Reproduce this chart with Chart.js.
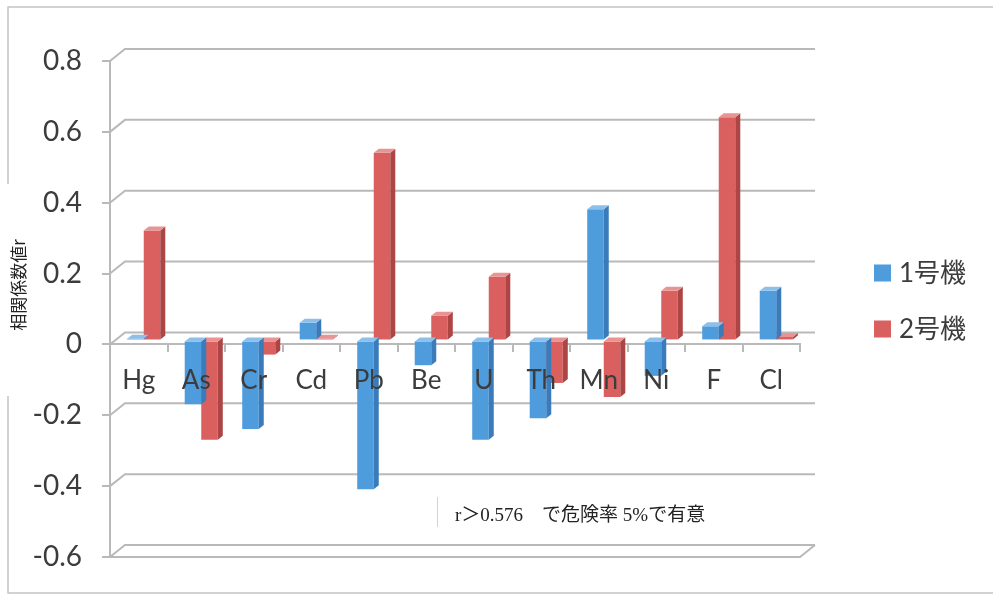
<!DOCTYPE html>
<html>
<head>
<meta charset="utf-8">
<script src="https://cdn.jsdelivr.net/npm/chart.js@4.4.0/dist/chart.umd.min.js"></script>
<style>
  html, body { margin: 0; padding: 0; background: #fff; }
  #wrap { width: 993px; height: 595px; position: relative; }
</style>
</head>
<body>
<div id="wrap"><canvas id="c"></canvas></div>
<script>
// Correlation coefficient r per element, for unit 1 and unit 2
const elements = ['Hg', 'As', 'Cr', 'Cd', 'Pb', 'Be', 'U', 'Th', 'Mn', 'Ni', 'F', 'Cl'];
const unit1 = [0.005, -0.18, -0.25, 0.05, -0.42, -0.07, -0.28, -0.22, 0.37, -0.10, 0.04, 0.14];
const unit2 = [0.31, -0.28, -0.04, 0.005, 0.53, 0.07, 0.18, -0.12, -0.16, 0.14, 0.63, 0.01];
const seriesNames = ['1号機', '2号機'];
const yTicks = [-0.6, -0.4, -0.2, 0, 0.2, 0.4, 0.6, 0.8];
const axisTitle = '相関係数値r';
const noteText = 'r＞0.576　で危険率 5%で有意';

const LATIN = 'Lato, "Noto Sans CJK JP", sans-serif';
const GRID = '#b9b9b9';
const TEXT = '#3c3c3c';
const WALL = { dx: 15, dy: 12 };      // offset of the back wall
const SHIFT = { dx: 5, dy: 4 };       // bars sit a third of the way back
const FACE = { dx: 5, dy: 4 };        // depth of each column

const palette = [
  { front: '#4f9cdc', side: '#3a7cbb', top: '#8cc0ea' },
  { front: '#d9605f', side: '#ad4545', top: '#e99393' }
];

// 3D look: back wall grid, floor, and side/top faces of each column
const depthPlugin = {
  id: 'depth',
  beforeDatasetsDraw(chart) {
    const { ctx, chartArea: a, scales: { y } } = chart;
    ctx.save();
    ctx.strokeStyle = GRID;
    ctx.lineWidth = 2;
    yTicks.forEach(v => {
      const py = y.getPixelForValue(v);
      ctx.beginPath();
      ctx.moveTo(a.left, py);
      ctx.lineTo(a.left + WALL.dx, py - WALL.dy);
      ctx.lineTo(a.right + WALL.dx, py - WALL.dy);
      ctx.stroke();
    });
    const fy = y.getPixelForValue(y.min);
    ctx.beginPath();
    ctx.moveTo(a.left, fy);
    ctx.lineTo(a.right, fy);
    ctx.lineTo(a.right + WALL.dx, fy - WALL.dy);
    ctx.stroke();
    ctx.restore();

    ctx.save();
    ctx.translate(SHIFT.dx, -SHIFT.dy);
  },
  afterDatasetDraw(chart, args) {
    const ctx = chart.ctx;
    const col = palette[args.index];
    args.meta.data.forEach(bar => {
      const { x, y, base, width } = bar.getProps(['x', 'y', 'base', 'width'], true);
      const l = x - width / 2, r = x + width / 2;
      const top = Math.min(y, base), bot = Math.max(y, base);
      ctx.fillStyle = col.side;
      ctx.beginPath();
      ctx.moveTo(r, top);
      ctx.lineTo(r + FACE.dx, top - FACE.dy);
      ctx.lineTo(r + FACE.dx, bot - FACE.dy);
      ctx.lineTo(r, bot);
      ctx.closePath();
      ctx.fill();
      ctx.fillStyle = col.top;
      ctx.beginPath();
      ctx.moveTo(l, top);
      ctx.lineTo(l + FACE.dx, top - FACE.dy);
      ctx.lineTo(r + FACE.dx, top - FACE.dy);
      ctx.lineTo(r, top);
      ctx.closePath();
      ctx.fill();
    });
  },
  afterDatasetsDraw(chart) {
    chart.ctx.restore();
  }
};

// Frame, axis title, legend and the significance note
const decorPlugin = {
  id: 'decor',
  beforeDraw(chart) {
    const ctx = chart.ctx;
    ctx.save();
    ctx.strokeStyle = '#c4c4c4';
    ctx.lineWidth = 1.5;
    ctx.beginPath();
    ctx.moveTo(8, 184); ctx.lineTo(8, 7); ctx.lineTo(993, 7);
    ctx.moveTo(8, 396); ctx.lineTo(8, 593); ctx.lineTo(993, 593);
    ctx.stroke();
    ctx.restore();
  },
  afterDraw(chart) {
    const ctx = chart.ctx;
    ctx.save();
    // axis title
    ctx.translate(19, 285);
    ctx.rotate(-Math.PI / 2);
    ctx.fillStyle = '#222';
    ctx.font = '17px "Noto Sans CJK JP", sans-serif';
    ctx.textAlign = 'center';
    ctx.textBaseline = 'middle';
    ctx.fillText(axisTitle, 0, 0);
    ctx.restore();

    // legend
    ctx.save();
    chart.data.datasets.forEach((ds, i) => {
      const cy = 273 + i * 56;
      ctx.fillStyle = ds.backgroundColor;
      ctx.fillRect(874, cy - 8.5, 17, 17);
      ctx.fillStyle = TEXT;
      ctx.font = '26px ' + LATIN;
      ctx.textAlign = 'left';
      ctx.textBaseline = 'middle';
      ctx.fillText(ds.label, 899, cy + 1);
    });
    ctx.restore();

    // note
    ctx.save();
    ctx.strokeStyle = '#d2d2d2';
    ctx.lineWidth = 1;
    ctx.beginPath();
    ctx.moveTo(437.5, 497); ctx.lineTo(437.5, 527);
    ctx.stroke();
    ctx.fillStyle = '#222';
    ctx.font = '19px "Liberation Serif", "Noto Sans CJK JP", serif';
    ctx.textAlign = 'left';
    ctx.textBaseline = 'middle';
    ctx.fillText(noteText, 455, 516);
    ctx.restore();
  }
};

new Chart(document.getElementById('c'), {
  type: 'bar',
  data: {
    labels: elements,
    datasets: [
      { label: seriesNames[0], data: unit1, backgroundColor: palette[0].front },
      { label: seriesNames[1], data: unit2, backgroundColor: palette[1].front }
    ]
  },
  options: {
    responsive: true,
    maintainAspectRatio: false,
    animation: false,
    events: [],
    layout: { padding: { top: 61, right: 193, bottom: 38, left: 0 } },
    datasets: { bar: { categoryPercentage: 0.575, barPercentage: 1.0, borderWidth: 0 } },
    plugins: { legend: { display: false }, tooltip: { enabled: false } },
    scales: {
      x: {
        position: { y: 0 },
        grid: { drawOnChartArea: false, drawTicks: true, tickLength: 7, color: GRID, lineWidth: 2, offset: true },
        border: { display: true, color: GRID, width: 2 },
        ticks: { z: 1, font: { family: LATIN, size: 26 }, color: TEXT, padding: 14, maxRotation: 0 }
      },
      y: {
        min: -0.6,
        max: 0.8,
        afterBuildTicks: s => { s.ticks = yTicks.map(v => ({ value: v })); },
        afterFit: s => { s.width = 110; },
        grid: { drawOnChartArea: false, drawTicks: true, tickLength: 8, color: GRID, lineWidth: 2 },
        border: { display: true, color: GRID, width: 2 },
        ticks: {
          font: { family: LATIN, size: 28 },
          color: TEXT,
          padding: 20,
          callback: v => String(Math.round(v * 10) / 10)
        }
      }
    }
  },
  plugins: [depthPlugin, decorPlugin]
});
</script>
</body>
</html>
